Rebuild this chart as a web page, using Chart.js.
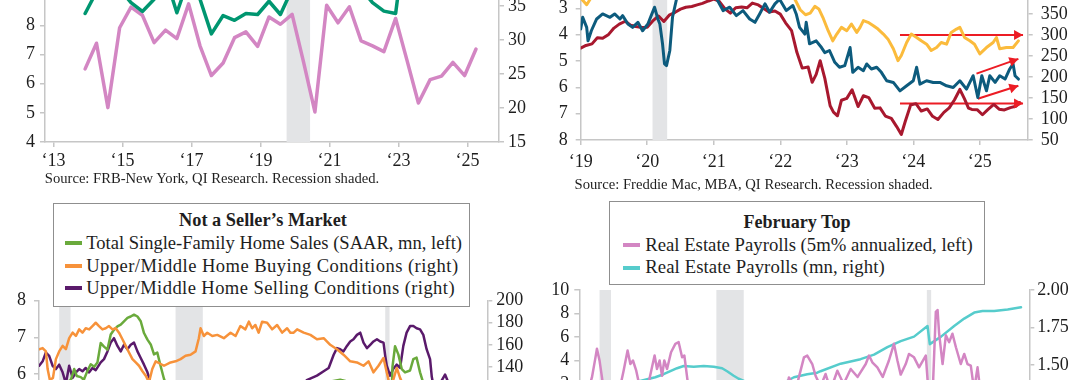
<!DOCTYPE html>
<html><head><meta charset="utf-8">
<script src="https://cdn.jsdelivr.net/npm/chart.js@4.4.1/dist/chart.umd.min.js"></script>
<style>
html,body{margin:0;padding:0;background:#fff;width:1080px;height:380px;overflow:hidden;position:relative;font-family:'Liberation Serif',serif;color:#222}
canvas{position:absolute}
.txt{position:absolute;white-space:nowrap;line-height:1;color:#1e1e1e}
.b{font-weight:bold}
.box{position:absolute;border:1.5px solid #8f8f8f;background:#fff;box-sizing:border-box}
.sw{position:absolute;height:4px}
</style></head><body>
<canvas id="cTL" width="540" height="270" style="left:0px;top:-80px"></canvas>
<canvas id="cTR" width="540" height="230" style="left:540px;top:-40px"></canvas>
<canvas id="cBL" width="540" height="260" style="left:0px;top:280px"></canvas>
<canvas id="cBR" width="540" height="230" style="left:540px;top:270px"></canvas>

<div class="txt" data-x="44.8" data-yc="178" data-w="334.5">Source: FRB-New York, QI Research. Recession shaded.</div>
<div class="txt" data-x="574.5" data-yc="184" data-w="358.5">Source: Freddie Mac, MBA, QI Research. Recession shaded.</div>

<div class="box" style="left:52.5px;top:203px;width:417.5px;height:104px"></div>
<div class="txt b" data-cx="263" data-yc="220.5" data-w="168">Not a Seller’s Market</div>
<div class="sw" style="left:64.8px;top:241.4px;width:17.2px;background:#6aaa3c"></div>
<div class="sw" style="left:64.8px;top:263.9px;width:17.2px;background:#f7923a"></div>
<div class="sw" style="left:64.8px;top:286.3px;width:17.2px;background:#5a1a6b"></div>
<div class="txt" id="bl1" data-x="86.2" data-yc="243.4" data-w="376">Total Single-Family Home Sales (SAAR, mn, left)</div>
<div class="txt" data-ref="bl1" data-x="86.2" data-yc="265.9" data-w="372.4">Upper/Middle Home Buying Conditions (right)</div>
<div class="txt" data-ref="bl1" data-x="86.2" data-yc="288.3" data-w="368.8">Upper/Middle Home Selling Conditions (right)</div>

<div class="box" style="left:609px;top:201px;width:375.5px;height:84px"></div>
<div class="txt b" data-cx="797" data-yc="221.7" data-w="107">February Top</div>
<div class="sw" style="left:622.8px;top:243px;width:17.2px;background:#d386c3"></div>
<div class="sw" style="left:622.8px;top:265.6px;width:17.2px;background:#56cccc"></div>
<div class="txt" id="br1" data-x="645.2" data-yc="245" data-w="327.6">Real Estate Payrolls (5m% annualized, left)</div>
<div class="txt" data-ref="br1" data-x="645.2" data-yc="267.6" data-w="239.6">Real Estate Payrolls (mn, right)</div>

<script>
// ---------- DATA ----------
// Top-left (FRB-NY survey, every 4 months)
const tlDates=[2013.92,2014.25,2014.58,2014.92,2015.25,2015.58,2015.92,2016.25,2016.58,2016.92,2017.25,2017.58,2017.92,2018.25,2018.58,2018.92,2019.25,2019.58,2019.92,2020.25,2020.58,2020.92,2021.25,2021.58,2021.92,2022.25,2022.58,2022.92,2023.25,2023.58,2023.92,2024.25,2024.58,2024.92,2025.25];
const tlPink=[6.51,7.39,5.18,7.92,8.63,8.35,7.41,7.84,7.55,8.74,7.30,6.28,6.71,7.58,7.78,7.28,8.29,8.04,8.38,6.75,5.03,8.69,8.09,8.64,7.47,7.30,7.10,8.24,6.80,5.34,6.14,6.26,6.73,6.28,7.19];
const tlGreen=[33.9,37.1,39.0,37.5,35.5,34.2,36.0,39.3,34.0,39.0,36.0,30.9,33.6,32.9,33.9,33.75,35.7,33.75,37.5,39.0,39.0,38.5,38.0,37.5,37.5,35.5,34.25,33.9,47.0];
const tlRecessions=[[2019.76,2020.44]];
const tlTicks=[2013,2015,2017,2019,2021,2023,2025];

// Top-right (weekly mortgage data)
const trRedDates=[2019.00,2019.08,2019.17,2019.25,2019.33,2019.42,2019.50,2019.58,2019.67,2019.75,2019.83,2019.92,2020.00,2020.08,2020.17,2020.25,2020.33,2020.42,2020.50,2020.58,2020.67,2020.75,2020.83,2020.92,2021.00,2021.08,2021.17,2021.25,2021.33,2021.42,2021.50,2021.58,2021.67,2021.75,2021.83,2021.92,2022.00,2022.08,2022.17,2022.25,2022.33,2022.42,2022.48,2022.54,2022.60,2022.67,2022.75,2022.80,2022.86,2022.92,2023.00,2023.08,2023.17,2023.25,2023.33,2023.42,2023.50,2023.58,2023.67,2023.75,2023.82,2023.88,2023.96,2024.04,2024.12,2024.21,2024.29,2024.37,2024.46,2024.54,2024.62,2024.70,2024.77,2024.83,2024.88,2024.96,2025.04,2025.12,2025.21,2025.29,2025.37,2025.46,2025.54,2025.60];
const trRed=[4.51,4.41,4.35,4.12,4.14,3.99,3.75,3.60,3.49,3.64,3.69,3.73,3.72,3.49,3.29,3.50,3.26,3.15,3.03,2.96,2.93,2.87,2.81,2.72,2.65,2.73,3.02,3.18,2.98,2.95,2.98,2.80,2.87,3.01,3.14,3.10,3.22,3.55,3.85,4.67,5.27,5.23,5.81,5.51,4.99,5.66,6.70,6.94,7.08,6.49,6.42,6.09,6.73,6.32,6.39,6.79,6.78,7.09,7.18,7.49,7.79,7.29,6.67,6.62,6.90,6.82,7.10,7.22,6.95,6.78,6.47,6.08,6.44,6.79,6.84,6.85,7.04,6.85,6.65,6.83,6.86,6.77,6.72,6.58];
const trBlueDates=[2019.00,2019.03,2019.09,2019.11,2019.16,2019.24,2019.33,2019.44,2019.51,2019.59,2019.63,2019.71,2019.78,2019.86,2019.93,2020.01,2020.06,2020.11,2020.16,2020.19,2020.23,2020.26,2020.29,2020.34,2020.38,2020.44,2020.49,2020.64,2020.79,2020.94,2021.03,2021.14,2021.24,2021.34,2021.44,2021.54,2021.62,2021.69,2021.77,2021.84,2021.92,2021.99,2022.09,2022.19,2022.24,2022.29,2022.37,2022.39,2022.44,2022.54,2022.62,2022.67,2022.74,2022.82,2022.89,2022.97,2023.05,2023.09,2023.17,2023.25,2023.30,2023.37,2023.45,2023.52,2023.60,2023.70,2023.80,2023.90,2024.00,2024.05,2024.10,2024.20,2024.30,2024.40,2024.50,2024.60,2024.70,2024.80,2024.90,2024.97,2025.03,2025.10,2025.15,2025.23,2025.30,2025.38,2025.45,2025.50,2025.53,2025.58];
const trBlue=[314,342,318,286,310,338,350,342,350,338,346,326,318,330,310,326,346,366,338,326,279,231,227,263,342,385,400,410,405,400,390,358,366,346,358,338,330,350,374,354,374,385,358,370,350,318,302,330,279,286,270,258,263,235,223,227,270,211,223,215,231,219,223,211,191,187,167,179,191,223,183,191,187,187,179,175,191,171,203,151,203,167,203,187,203,195,219,231,203,195];
const trGoldDates=[2019.00,2019.09,2019.17,2019.40,2019.70,2020.00,2020.30,2020.60,2021.00,2021.50,2022.00,2022.22,2022.30,2022.38,2022.45,2022.52,2022.58,2022.64,2022.72,2022.79,2022.85,2022.92,2023.00,2023.07,2023.15,2023.20,2023.25,2023.32,2023.40,2023.47,2023.55,2023.62,2023.70,2023.77,2023.82,2023.90,2023.97,2024.05,2024.12,2024.20,2024.27,2024.35,2024.42,2024.50,2024.57,2024.65,2024.70,2024.77,2024.85,2024.92,2025.00,2025.10,2025.20,2025.25,2025.30,2025.40,2025.50,2025.58];
const trGold=[388,372,392,410,415,420,400,420,425,420,410,385,360,348,352,368,362,342,310,286,302,318,310,326,306,318,334,330,322,314,302,290,267,239,251,282,302,294,286,278,263,270,282,278,306,314,318,294,286,278,255,270,282,294,267,270,270,286];
const trArrowFrom=[[2023.80,300],[2024.95,208],[2024.97,148],[2023.80,137]];
const trArrowTo=[[2025.65,300],[2025.58,243],[2025.58,179],[2025.65,137]];
const trRecessions=[[2020.08,2020.30]];
const trTicks=[2019,2020,2021,2022,2023,2024,2025];

// Bottom-left (monthly)
const blOrangeDates=[2000.01,2000.21,2000.40,2000.50,2000.63,2000.81,2000.98,2001.17,2001.37,2001.56,2001.75,2001.95,2002.14,2002.33,2002.52,2002.71,2002.91,2003.10,2003.29,2003.48,2003.68,2003.87,2004.06,2004.26,2004.45,2004.64,2004.84,2005.03,2005.22,2005.42,2005.61,2005.80,2006.00,2006.19,2006.38,2006.57,2006.77,2007.25,2007.63,2007.92,2008.21,2008.50,2008.79,2009.08,2009.27,2009.37,2009.56,2009.76,2010.05,2010.34,2010.72,2011.11,2011.40,2011.68,2011.97,2012.17,2012.36,2012.55,2012.74,2012.94,2013.23,2013.52,2013.81,2014.10,2014.39,2014.58,2014.77,2014.97,2015.35,2015.74,2016.12,2016.51,2016.89,2017.28,2017.66,2018.05,2018.44,2018.82,2019.11,2019.40,2019.69,2019.98,2020.17,2020.36,2020.54,2020.75,2020.94,2021.23,2021.52,2022.10,2022.68,2023.26,2023.84,2024.42,2024.99,2025.46];
const blOrange=[156,157,154,138,128,130,147,154,159,156,166,171,168,174,171,175,174,177,180,177,174,175,177,174,175,171,165,159,153,147,144,141,136,132,126,138,145,141,144,145,147,150,151,154,166,175,168,171,168,169,166,171,168,177,174,181,175,178,171,181,180,174,178,171,175,171,171,174,171,169,165,166,160,156,151,145,144,141,145,135,141,148,135,122,128,139,130,120,110,90,75,80,78,85,88,90];
const blGreenDates=[2000.00,2001.00,2001.85,2001.95,2002.04,2002.19,2002.42,2002.60,2002.81,2003.00,2003.20,2003.39,2003.58,2003.77,2003.97,2004.16,2004.35,2004.55,2004.74,2004.93,2005.13,2005.32,2005.51,2005.71,2005.90,2006.09,2006.29,2006.48,2006.67,2006.86,2007.05,2007.25,2007.63,2008.21,2008.79,2009.37,2009.95,2010.53,2011.68,2012.84,2013.99,2015.15,2016.31,2017.47,2018.34,2019.21,2019.79,2020.08,2020.25,2020.40,2020.50,2020.65,2020.84,2021.04,2021.23,2021.52,2021.71,2021.90,2022.10,2022.39,2022.68,2023.26,2024.42,2025.46];
const blGreen=[5.5,5.6,5.85,6.00,6.14,5.95,5.92,5.85,6.09,6.27,6.20,6.32,6.85,6.75,6.67,7.08,7.21,7.30,7.35,7.44,7.53,7.57,7.62,7.57,7.44,7.12,6.94,6.81,6.54,6.59,6.23,5.87,5.4,4.6,4.3,4.6,5.0,4.5,4.6,5.1,5.3,5.6,5.75,5.85,5.75,5.65,5.8,5.75,5.3,4.5,6.2,6.76,6.54,6.14,6.05,6.1,6.41,6.45,6.05,5.6,5.0,4.7,4.6,4.7];
const blPurpleDates=[2000.01,2000.21,2000.40,2000.59,2000.79,2000.98,2001.17,2001.37,2001.56,2001.75,2001.95,2002.14,2002.33,2002.52,2002.71,2002.91,2003.10,2003.29,2003.58,2003.77,2003.97,2004.16,2004.35,2004.55,2004.74,2004.93,2005.13,2005.32,2005.51,2005.71,2005.90,2006.09,2006.29,2006.48,2007.05,2008.21,2009.37,2011.11,2012.84,2014.58,2015.15,2015.53,2016.12,2016.51,2016.80,2017.09,2017.28,2017.47,2017.66,2017.86,2018.05,2018.24,2018.44,2018.63,2018.82,2019.02,2019.21,2019.40,2019.60,2019.79,2019.98,2020.08,2020.17,2020.36,2020.54,2020.75,2020.94,2021.13,2021.32,2021.52,2021.71,2021.90,2022.10,2022.29,2022.48,2022.68,2022.78,2022.97,2023.26,2023.55,2023.84,2024.42,2024.99,2025.46];
const blPurple=[141,145,153,150,141,138,142,135,125,141,130,135,138,136,139,135,139,137,144,147,154,162,166,159,154,160,156,160,162,154,148,142,135,125,100,70,60,65,85,105,118,128,132,136,139,151,157,156,154,159,163,165,169,171,162,157,160,163,165,163,162,150,141,132,138,142,139,159,171,177,177,175,174,169,156,147,131,115,125,133,122,115,118,112];
const usRecessions=[[2001.17,2001.83],[2007.92,2009.50],[2020.08,2020.33]];

// Bottom-right (monthly payrolls)
const brPinkDates=[2000.05,2000.52,2000.73,2000.92,2001.02,2001.17,2001.31,2001.50,2001.90,2002.25,2002.56,2002.79,2002.95,2003.10,2003.29,2003.53,2003.87,2004.20,2004.35,2004.49,2004.64,2004.78,2004.91,2005.07,2005.30,2005.55,2005.74,2005.94,2006.07,2006.23,2006.42,2007.00,2007.87,2008.74,2009.31,2010.18,2011.05,2011.92,2012.11,2012.50,2012.98,2013.17,2013.46,2013.65,2013.94,2014.23,2014.52,2014.91,2015.27,2015.68,2016.08,2016.55,2016.74,2016.93,2017.22,2017.53,2017.89,2018.18,2018.38,2018.57,2018.86,2019.05,2019.34,2019.63,2019.82,2020.02,2020.19,2020.31,2020.45,2020.60,2020.70,2020.79,2020.99,2021.18,2021.37,2021.56,2021.76,2022.04,2022.24,2022.43,2022.62,2022.81,2023.01,2023.20,2023.78,2024.36,2024.94,2025.52];
const brPink=[1.0,1.5,2.56,4.14,5.0,3.99,2.56,0.5,0.0,1.0,3.13,4.85,3.7,4.0,3.13,1.5,1.2,3.42,4.42,3.28,4.0,2.7,4.0,3.28,4.7,5.42,5.56,4.27,4.42,2.56,0.5,-1,-2,-4,-5,-1,0.5,1.0,2.56,1.5,4.27,4.42,3.7,2.7,1.8,2.85,1.5,3.13,2.0,3.28,2.6,3.7,4.42,3.85,3.42,2.6,4.0,5.42,4.0,2.8,3.7,4.56,4.27,3.42,3.9,4.42,1.0,-8,2.5,8.14,8.3,6.28,3.7,6.14,5.56,6.28,5.13,3.7,4.56,3.7,3.56,1.5,3.42,1.0,0.0,0.5,1.0,0.5];
const brTealDates=[2000.00,2001.50,2003.00,2004.39,2004.87,2005.26,2005.65,2006.03,2006.61,2007.19,2007.77,2008.25,2008.54,2008.92,2009.21,2009.60,2010.18,2011.05,2011.92,2012.40,2012.79,2013.17,2013.75,2013.94,2015.10,2016.25,2017.03,2017.80,2018.57,2019.34,2020.12,2020.25,2020.90,2021.66,2022.24,2022.82,2023.30,2023.97,2024.75,2025.52];
const brTeal=[1.32,1.35,1.38,1.42,1.44,1.46,1.48,1.495,1.49,1.495,1.49,1.48,1.46,1.43,1.41,1.39,1.37,1.37,1.39,1.42,1.43,1.44,1.45,1.46,1.51,1.54,1.57,1.62,1.66,1.69,1.76,1.64,1.69,1.76,1.81,1.85,1.86,1.86,1.87,1.885];

// ---------- TEXT FITTING ----------
document.querySelectorAll('.txt').forEach(el=>{
  const w=+el.dataset.w;
  el.style.fontSize='20px';
  let m=el.getBoundingClientRect().width;
  let fs=20*w/m;
  if(el.dataset.ref){
    fs=+document.getElementById(el.dataset.ref).dataset.fsz;
    el.style.fontSize=fs+'px';
    m=el.getBoundingClientRect().width;
    el.style.letterSpacing=((w-m)/el.textContent.length)+'px';
  } else el.style.fontSize=fs+'px';
  el.dataset.fsz=fs;
  const r=el.getBoundingClientRect();
  el.style.left=(el.dataset.cx?(+el.dataset.cx-r.width/2):+el.dataset.x)+'px';
  el.style.top=(+el.dataset.yc-r.height/2)+'px';
});

// ---------- CHARTS ----------
const GRAY='#c6c6c6';
const FONT={family:"'Liberation Serif', serif",size:18};
const pts=(d,v)=>d.map((x,i)=>({x,y:v[i]}));
const shade={id:'shade',beforeDatasetsDraw(c,a,o){
  const {ctx,chartArea:ar,scales:{x}}=c;ctx.save();ctx.fillStyle='#e3e4e6';
  (o.ranges||[]).forEach(([s,e])=>{const x0=x.getPixelForValue(s),x1=x.getPixelForValue(e);ctx.fillRect(x0,ar.top,x1-x0,ar.bottom-ar.top);});
  ctx.restore();}};
const arrows={id:'arrows',afterDatasetsDraw(c){
  const ctx=c.ctx;
  c.data.datasets.forEach((ds,i)=>{ if(!ds.arrowHead) return;
    const el=c.getDatasetMeta(i).data; if(el.length<2) return;
    const p0=el[el.length-2],p1=el[el.length-1];
    const ang=Math.atan2(p1.y-p0.y,p1.x-p0.x);const L=9,W=5;
    ctx.save();ctx.fillStyle=ds.borderColor;ctx.beginPath();
    ctx.moveTo(p1.x,p1.y);
    ctx.lineTo(p1.x-L*Math.cos(ang)+W*Math.sin(ang),p1.y-L*Math.sin(ang)-W*Math.cos(ang));
    ctx.lineTo(p1.x-L*Math.cos(ang)-W*Math.sin(ang),p1.y-L*Math.sin(ang)+W*Math.cos(ang));
    ctx.closePath();ctx.fill();ctx.restore();});}};

function yAx(pos,min,max,step,width,pad,extra){
  return Object.assign({type:'linear',position:pos,min,max,
    grid:{drawOnChartArea:false,drawTicks:true,tickLength:5,color:GRAY,lineWidth:1.5},
    border:{display:true,color:GRAY,width:1.5},
    ticks:{stepSize:step,font:FONT,color:'#1e1e1e',padding:pad,autoSkip:false},
    afterFit:s=>{s.width=width;}},extra||{});
}
function xAx(min,max,tickVals,show,pad){
  return {type:'linear',min,max,display:show,
    afterBuildTicks:s=>{s.ticks=tickVals.map(v=>({value:v}));},
    grid:{drawOnChartArea:false,drawTicks:true,tickLength:5,color:GRAY,lineWidth:1.5},
    border:{display:true,color:GRAY,width:1.5},
    ticks:{font:FONT,color:'#1e1e1e',padding:pad,maxRotation:0,autoSkip:false,callback:v=>'\u2018'+String(v).slice(2)},
    afterFit:s=>{s.height=show?30:0;}};
}
function line(data,color,width,axis){
  return {data,borderColor:color,backgroundColor:color,borderWidth:width,pointRadius:0,tension:0,yAxisID:axis,borderJoinStyle:'round',borderCapStyle:'round'};
}
const base={responsive:false,animation:false,devicePixelRatio:1,parsing:true,events:[]};

// Top-left
new Chart(document.getElementById('cTL'),{type:'line',
  data:{datasets:[line(pts(tlDates.slice(0,tlGreen.length),tlGreen),'#009670',3.5,'yR'),line(pts(tlDates,tlPink),'#d386c3',3.5,'yL')]},
  options:Object.assign({},base,{layout:{padding:{left:0,right:0,top:18,bottom:18}},
    plugins:{legend:{display:false},tooltip:{enabled:false},shade:{ranges:tlRecessions}},
    scales:{x:xAx(2012.757,2025.916,tlTicks,true,3),
      yL:yAx('left',4,11,1,45,5,{afterBuildTicks:s=>{s.ticks=s.ticks.filter(t=>t.value<=8);}}),
      yR:yAx('right',15,45,5,41,4,{afterBuildTicks:s=>{s.ticks=s.ticks.filter(t=>t.value<=35);}})}}),
  plugins:[shade]});

// Top-right
const arrowSets=trArrowFrom.map((f,i)=>Object.assign(line([{x:f[0],y:f[1]},{x:trArrowTo[i][0],y:trArrowTo[i][1]}],'#ec1c24',2,'yR'),{arrowHead:true,borderCapStyle:'butt'}));
new Chart(document.getElementById('cTR'),{type:'line',
  data:{datasets:[line(pts(trGoldDates,trGold),'#fbbb3c',3,'yR'),line(pts(trBlueDates,trBlue),'#0d5b7d',3,'yR'),line(pts(trRedDates,trRed),'#a8182e',3,'yL')].concat(arrowSets)},
  options:Object.assign({},base,{layout:{padding:{left:0,right:0,top:22,bottom:20}},
    plugins:{legend:{display:false},tooltip:{enabled:false},shade:{ranges:trRecessions}},
    scales:{x:xAx(2019,2025.72,trTicks,true,6),
      yL:yAx('left',2,8,1,40.7,8,{reverse:true}),
      yR:yAx('right',50,426,50,52.3,8,{afterBuildTicks:s=>{s.ticks=s.ticks.filter(t=>t.value%50===0&&t.value<=400);}})}}),
  plugins:[shade,arrows]});

// Bottom-left
new Chart(document.getElementById('cBL'),{type:'line',
  data:{datasets:[line(pts(blOrangeDates,blOrange),'#f7923a',2.5,'yR'),line(pts(blGreenDates,blGreen),'#6aaa3c',2.5,'yL'),line(pts(blPurpleDates,blPurple),'#5a1a6b',2.5,'yR')]},
  options:Object.assign({},base,{layout:{padding:{left:0,right:0,top:20.7,bottom:16.1}},
    plugins:{legend:{display:false},tooltip:{enabled:false},shade:{ranges:usRecessions}},
    scales:{x:xAx(2000,2026,[],false,3),
      yL:yAx('left',2,8,1,39,8),
      yR:yAx('right',0,200,20,52.7,4)}}),
  plugins:[shade]});

// Bottom-right
new Chart(document.getElementById('cBR'),{type:'line',
  data:{datasets:[line(pts(brPinkDates,brPink),'#d386c3',2.5,'yL'),line(pts(brTealDates,brTeal),'#56cccc',2.5,'yR')]},
  options:Object.assign({},base,{layout:{padding:{left:0,right:0,top:20,bottom:22}},
    plugins:{legend:{display:false},tooltip:{enabled:false},shade:{ranges:usRecessions}},
    scales:{x:xAx(2000,2026,[],false,3),
      yL:yAx('left',-6,10,2,39.3,5),
      yR:yAx('right',0.75,2,0.25,50.7,3,{ticks:{stepSize:0.25,font:FONT,color:'#1e1e1e',padding:3,callback:v=>v.toFixed(2)}})}}),
  plugins:[shade]});
</script>
</body></html>
